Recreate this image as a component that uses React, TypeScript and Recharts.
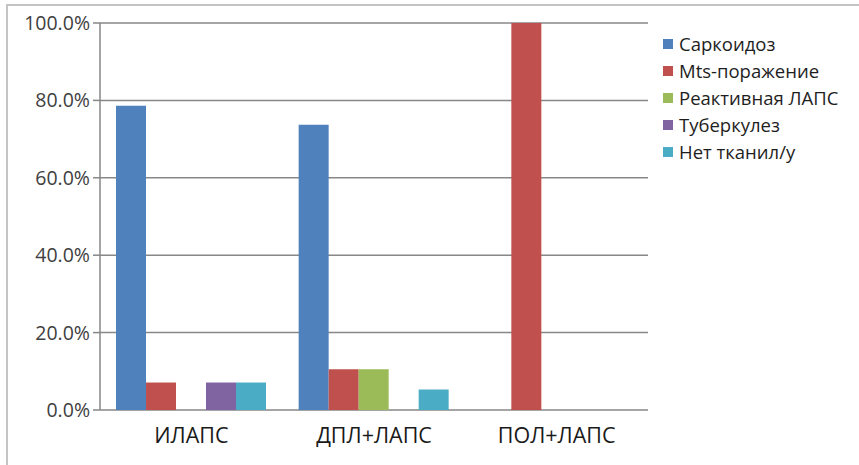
import React from "react";
import {
  BarChart,
  Bar,
  XAxis,
  YAxis,
  CartesianGrid,
  ReferenceLine,
} from "recharts";

const categories = ["ИЛАПС", "ДПЛ+ЛАПС", "ПОЛ+ЛАПС"];

const sarcoidosis = [78.6, 73.7, 0];
const metastases = [7.1, 10.5, 100];
const reactive = [0, 10.5, 0];
const tuberculosis = [7.1, 0, 0];
const noTissue = [7.1, 5.3, 0];

const yTicks = [0, 20, 40, 60, 80, 100];
const edgeTicks = [0, 1, 2, 3];

const series = [
  { key: "sarc", name: "Саркоидоз", color: "#4F81BD", values: sarcoidosis },
  { key: "mts", name: "Mts-поражение", color: "#C0504D", values: metastases },
  { key: "react", name: "Реактивная ЛАПС", color: "#9BBB59", values: reactive },
  { key: "tb", name: "Туберкулез", color: "#8064A2", values: tuberculosis },
  { key: "none", name: "Нет тканил/у", color: "#4BACC6", values: noTissue },
];

const data = categories.map((name, i) => {
  const row: Record<string, string | number> = { name };
  series.forEach((s) => {
    row[s.key] = s.values[i];
  });
  return row;
});

const FONT = "'Open Sans', 'DejaVu Sans', sans-serif";
const GRID = "#878787";

function LegendBox() {
  return (
    <div
      style={{
        position: "absolute",
        left: 663,
        top: 30,
        fontFamily: FONT,
        fontSize: 18.5,
        color: "#1e1e1e",
      }}
    >
      {series.map((s) => (
        <div
          key={s.key}
          style={{ display: "flex", alignItems: "center", height: 27 }}
        >
          <span
            style={{
              display: "inline-block",
              width: 10,
              height: 10,
              background: s.color,
              marginRight: 6,
            }}
          />
          <span>{s.name}</span>
        </div>
      ))}
    </div>
  );
}

export default function App() {
  return (
    <div
      style={{
        position: "absolute",
        left: 0,
        top: 0,
        width: 859,
        height: 465,
        background: "#fff",
        overflow: "hidden",
      }}
    >
      <div
        style={{
          position: "absolute",
          left: 6,
          top: 4,
          width: 860,
          height: 470,
          borderTop: "2px solid #c4c4c4",
          borderLeft: "2px solid #c4c4c4",
        }}
      />
      <BarChart
        width={859}
        height={465}
        data={data}
        margin={{ top: 23, right: 211, bottom: 25, left: 10 }}
        barCategoryGap={16}
        barGap={0}
        style={{ position: "absolute", left: 0, top: 0 }}
      >
        <CartesianGrid vertical={false} stroke={GRID} strokeWidth={1.5} />
        <XAxis
          xAxisId="edges"
          type="number"
          domain={[0, 3]}
          ticks={edgeTicks}
          tick={false}
          tickSize={7}
          tickLine={{ stroke: GRID, strokeWidth: 1.5 }}
          axisLine={{ stroke: GRID, strokeWidth: 1.5 }}
          height={0}
          allowDataOverflow
        />
        <XAxis
          dataKey="name"
          tickLine={false}
          axisLine={false}
          tickSize={0}
          tickMargin={18}
          height={30}
          interval={0}
          tick={{ fill: "#1a1a1a", fontSize: 21.5, fontFamily: FONT }}
        />
        <YAxis
          width={90}
          domain={[0, 100]}
          ticks={yTicks}
          tickFormatter={(v: number) => v.toFixed(1) + "%"}
          tickSize={7}
          tickMargin={3}
          tickLine={{ stroke: GRID, strokeWidth: 1.5 }}
          axisLine={{ stroke: GRID, strokeWidth: 1.5 }}
          tick={{ fill: "#404040", fontSize: 19.5, fontFamily: FONT }}
        />
        <ReferenceLine
          xAxisId="edges"
          x={3}
          stroke="#d6d6d6"
          strokeWidth={1.5}
        />
        {series.map((s) => (
          <Bar
            key={s.key}
            dataKey={s.key}
            name={s.name}
            fill={s.color}
            isAnimationActive={false}
          />
        ))}
      </BarChart>
      <LegendBox />
    </div>
  );
}
